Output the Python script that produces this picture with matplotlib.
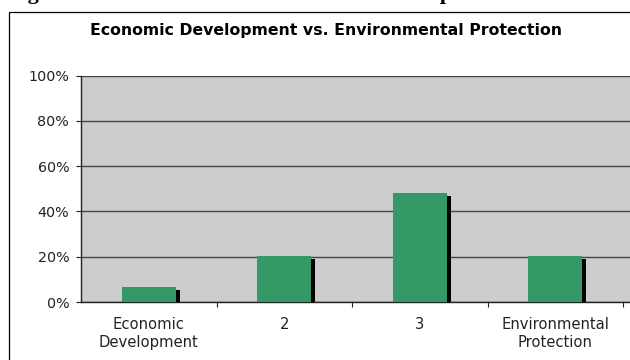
import matplotlib
matplotlib.use("Agg")
import matplotlib.pyplot as plt
import matplotlib.patheffects as pe
from matplotlib.patches import Rectangle
from matplotlib.ticker import FixedLocator, FuncFormatter

categories = ["Economic\nDevelopment", "2", "3", "Environmental\nProtection"]
values = [6.6, 20.4, 48.1, 20.4]
yticks = [0, 20, 40, 60, 80, 100]
title = "Economic Development vs. Environmental Protection"
heading = "Figure 1: Attitudes Towards Economic Development vs. Environmental Protection"

W, H = 630, 360
fig = plt.figure(figsize=(W / 100, H / 100), dpi=100)

# page heading (cut off at top of image)
fig.text(8.4 / W, 1 + 1.0 / H, heading, fontfamily="Liberation Serif",
         fontweight="bold", fontsize=15.8, ha="left", va="baseline", color="black")

# outer chart frame
frame = Rectangle((9 / W, -0.1), 1.2, 1 - 11.5 / H + 0.1, transform=fig.transFigure,
                  fill=False, edgecolor="black", linewidth=0.9)
fig.add_artist(frame)

fig.text(326 / W, 1 - 35.5 / H, title, fontfamily="DejaVu Sans", fontweight="bold",
         fontsize=11.3, ha="center", va="baseline", color="black")

left, right = 81 / W, 630 / W
bottom, top = (H - 302) / H, (H - 75.5) / H
ax = fig.add_axes([left, bottom, right - left, top - bottom])
ax.set_facecolor("#CCCCCC")

x = list(range(len(categories)))
bars = ax.bar(x, values, width=0.4, color="#339966", zorder=3)
for b in bars:
    b.set_path_effects([pe.SimplePatchShadow(offset=(2.9, -2.2), shadow_rgbFace="black",
                                             alpha=1.0), pe.Normal()])

ax.set_xlim(-0.5, 3.5 + 7 / 135.5)
ax.set_ylim(0, 100)

ax.yaxis.set_major_locator(FixedLocator(yticks))
ax.yaxis.set_major_formatter(FuncFormatter(lambda v, p: f"{int(v)}%"))
ax.grid(axis="y", color="#444444", linewidth=1.0, zorder=1)
ax.set_axisbelow(True)

ax.set_xticks(x)
ax.set_xticklabels(categories, fontfamily="DejaVu Sans", fontsize=10.6, color="#222222",
                   linespacing=1.3)
ax.set_xticks([i + 0.5 for i in range(len(categories))], minor=True)
ax.tick_params(axis="x", which="major", length=0, pad=10.5)
ax.tick_params(axis="x", which="minor", length=3.5, width=0.8, color="#222222", direction="out")
ax.tick_params(axis="y", which="major", length=3.5, width=0.8, color="#222222", pad=5,
               labelsize=10.3, labelcolor="#222222")
for lab in ax.get_yticklabels():
    lab.set_fontfamily("DejaVu Sans")

for s in ["top", "right"]:
    ax.spines[s].set_visible(False)
ax.spines["left"].set_color("#222222")
ax.spines["left"].set_linewidth(1.0)
ax.spines["bottom"].set_color("#222222")
ax.spines["bottom"].set_linewidth(1.0)

fig.savefig("out.png", dpi=100)
